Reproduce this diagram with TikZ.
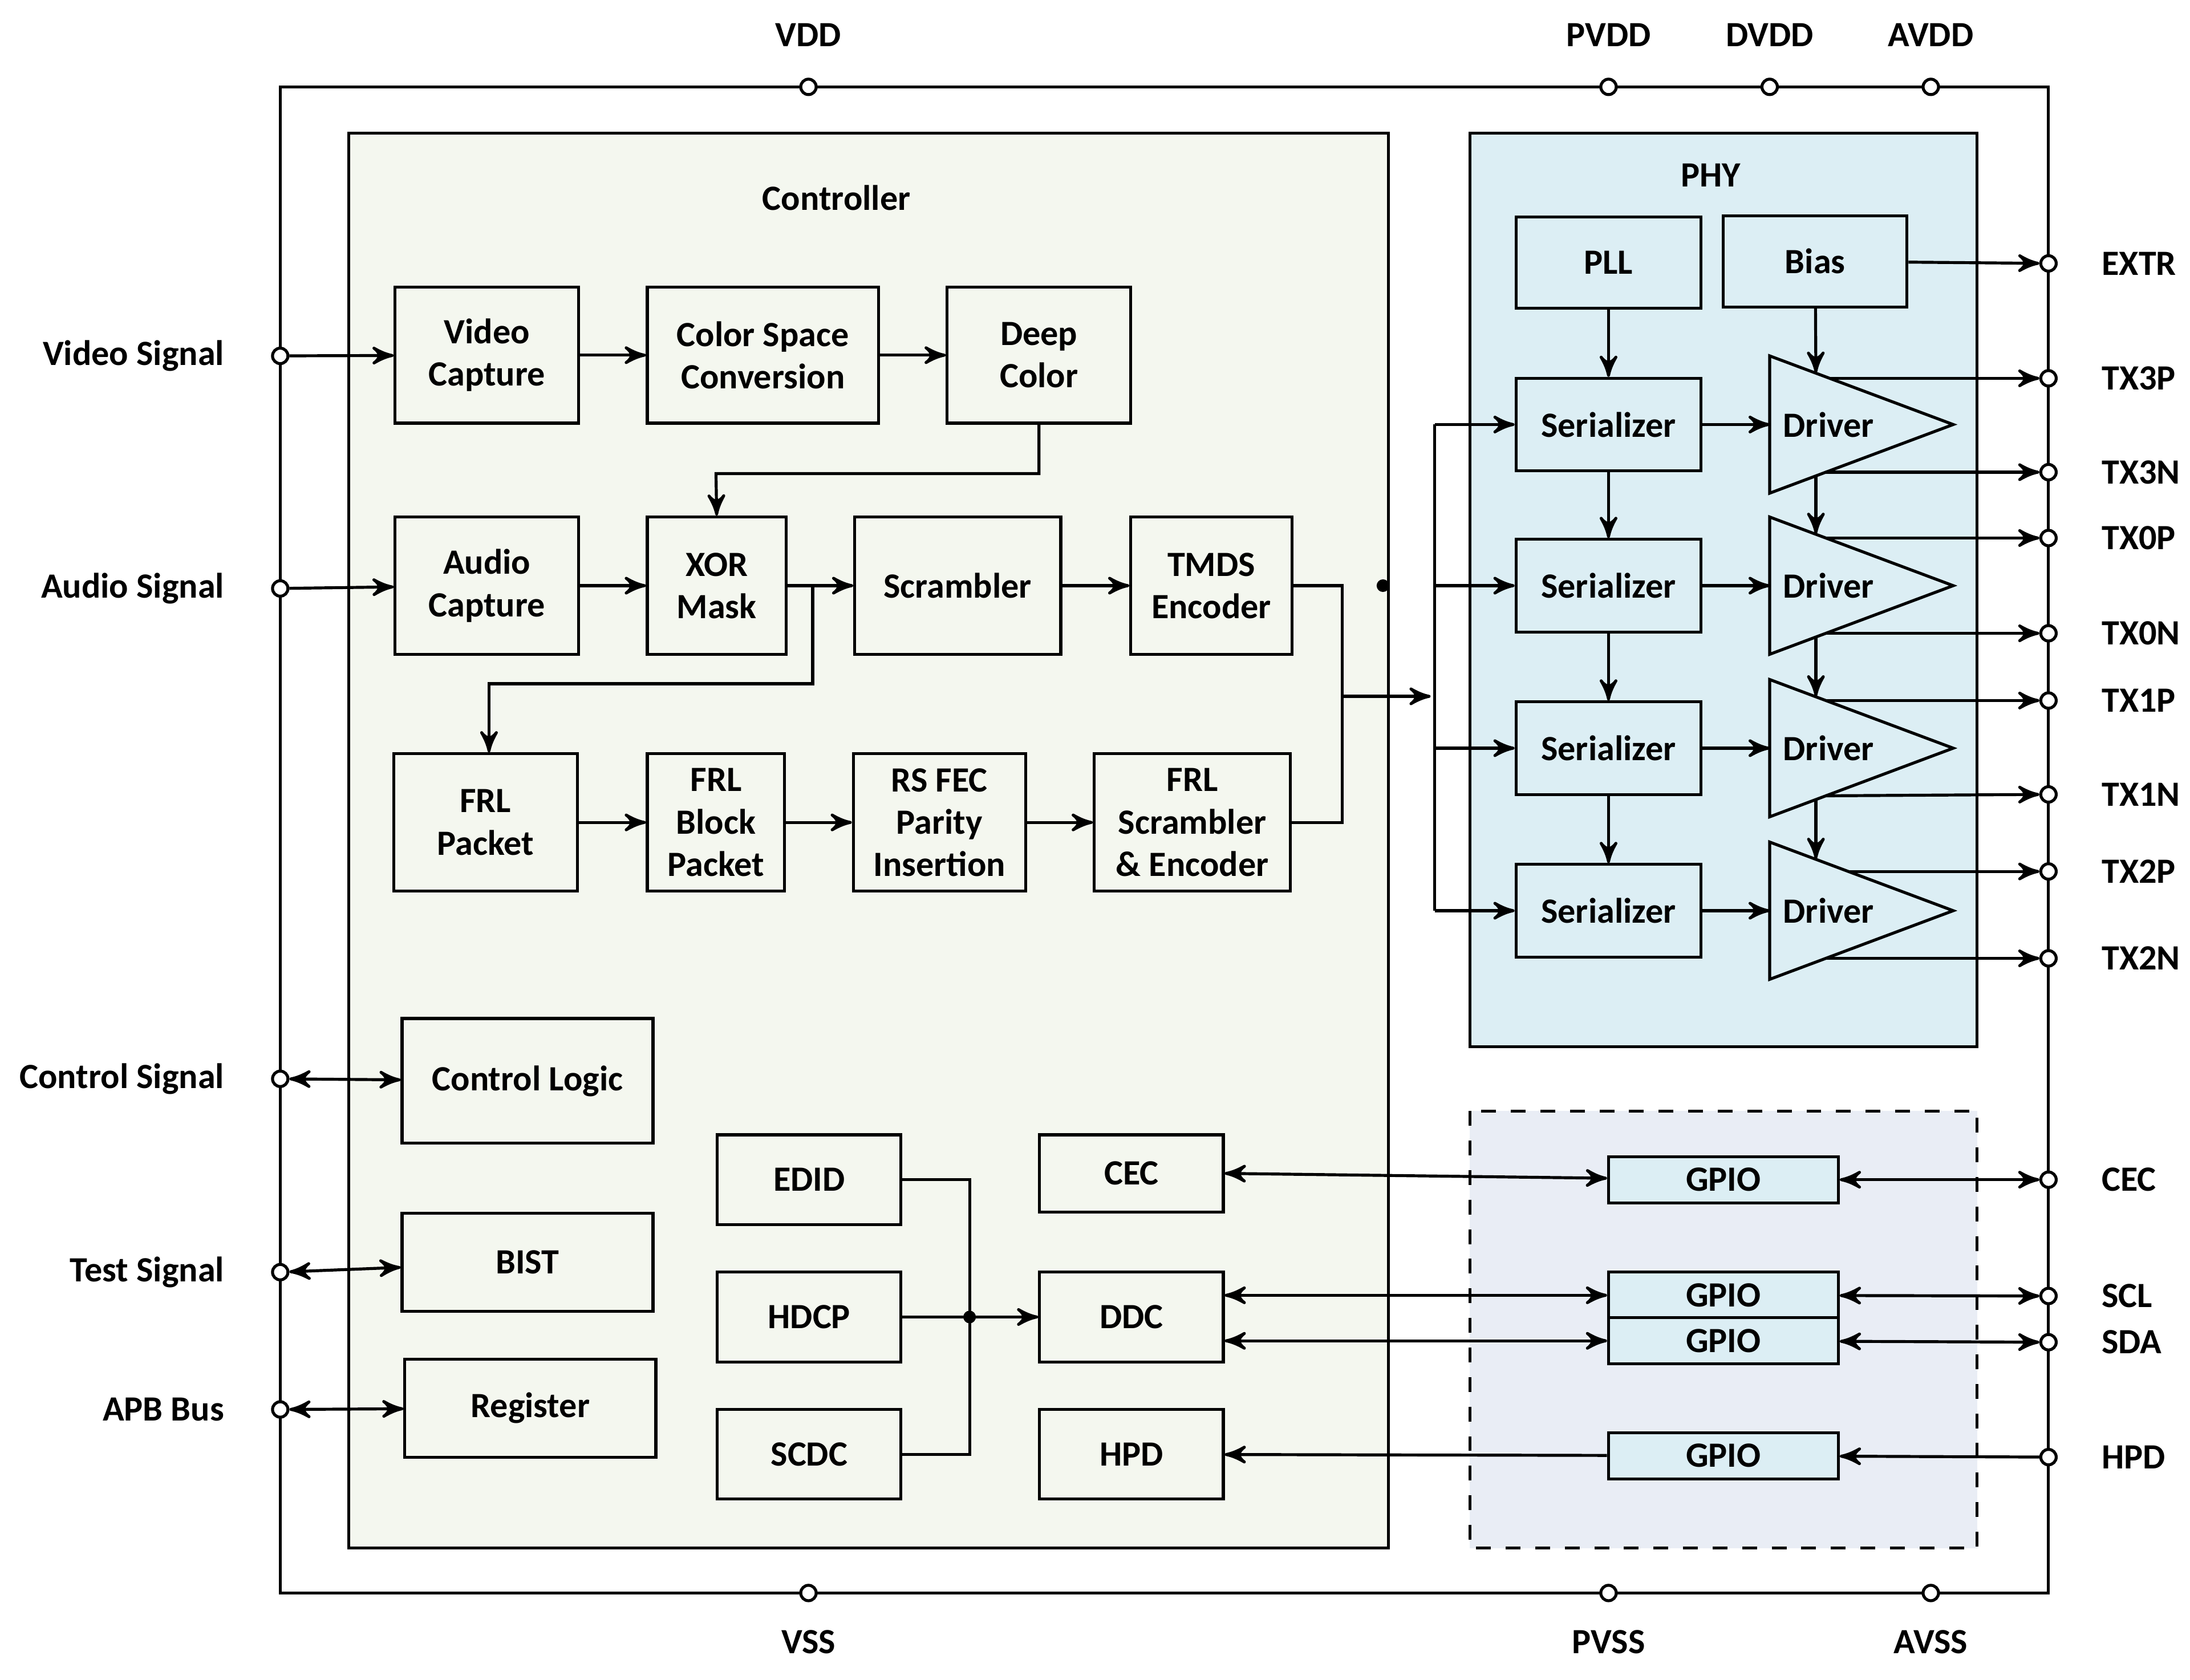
\documentclass[tikz,border=0pt]{standalone}
\usepackage{fontspec}
\setmainfont{Carlito}
\usetikzlibrary{arrows,positioning}
\definecolor{ctrlfill}{HTML}{F4F7EF}
\definecolor{phyfill}{HTML}{DCEEF4}
\definecolor{gpiofill}{HTML}{E9EDF5}
\begin{document}
\begin{tikzpicture}
[x=0.01cm, y=-0.01cm, line width=0.6pt, >=stealth',
 font=\fontsize{7.2}{8.6}\selectfont\bfseries,
 blk/.style={rectangle, draw, inner sep=1pt, align=center},
 gpio/.style={blk, fill=phyfill, minimum width=1.64cm, minimum height=0.33cm},
 ser/.style={blk, minimum width=1.32cm, minimum height=0.66cm},
 pin/.style={circle, draw, fill=white, inner sep=0pt, minimum size=0.11cm},
 lbl/.style={inner sep=0pt}]
\useasboundingbox (0,0) rectangle (1563,1199);

% frames
\draw (200,62) rectangle (1462,1137);
\draw[fill=ctrlfill] (249,95) rectangle (991,1105);
\draw[fill=phyfill] (1049,95) rectangle (1411,747);
\draw[fill=gpiofill, dashed] (1049,793) rectangle (1411,1105);
\node[lbl] (ctrltitle) at (597,141) {Controller};
\node[lbl] (phytitle) at (1221,125) {PHY};

% pins and their labels
\foreach \name/\x/\y/\lab/\ly in {VDD/577/62/VDD/25, PVDD/1148/62/PVDD/25, DVDD/1263/62/DVDD/25, AVDD/1378/62/AVDD/25,
  VSS/577/1137/VSS/1172, PVSS/1148/1137/PVSS/1172, AVSS/1378/1137/AVSS/1172}{
  \node[pin] (p\name) at (\x,\y) {};
  \node[lbl] (l\name) at (\x,\ly) {\lab};
}
\foreach \name/\y/\lab in {Video/254/Video Signal, Audio/420/Audio Signal, Ctrl/770/Control Signal,
  Test/908/Test Signal, APB/1006/APB Bus}{
  \node[pin] (p\name) at (200,\y) {};
  \node[lbl, anchor=east] (l\name) at (161,\y) {\lab};
}
\foreach \name/\y in {EXTR/188, TX3P/270, TX3N/337, TX0P/384, TX0N/452, TX1P/500, TX1N/567,
  TX2P/622, TX2N/684, CEC/842, SCL/925, SDA/958, HPD/1040}{
  \node[pin] (p\name) at (1462,\y) {};
  \node[lbl, anchor=west] (l\name) at (1499,\y) {\name};
}

% controller blocks
\node[blk, minimum width=1.31cm, minimum height=0.97cm] (vidcap) at (347.5,253.5) {Video\\Capture};
\node[blk, minimum width=1.65cm, minimum height=0.97cm] (csc) at (544.5,253.5) {Color Space\\Conversion};
\node[blk, minimum width=1.31cm, minimum height=0.97cm] (deep) at (741.5,253.5) {Deep\\Color};
\node[blk, minimum width=1.31cm, minimum height=0.98cm] (audcap) at (347.5,418) {Audio\\Capture};
\node[blk, minimum width=0.99cm, minimum height=0.98cm] (xor) at (511.5,418) {XOR\\Mask};
\node[blk, minimum width=1.47cm, minimum height=0.98cm] (scr) at (683.5,418) {Scrambler};
\node[blk, minimum width=1.15cm, minimum height=0.98cm] (tmds) at (864.5,418) {TMDS\\Encoder};
\node[blk, minimum width=1.31cm, minimum height=0.98cm] (frlp) at (346.5,587) {FRL\\Packet};
\node[blk, minimum width=0.98cm, minimum height=0.98cm] (frlb) at (511,587) {FRL\\Block\\Packet};
\node[blk, minimum width=1.23cm, minimum height=0.98cm] (rsfec) at (670.5,587) {RS FEC\\Parity\\Insertion};
\node[blk, minimum width=1.40cm, minimum height=0.98cm] (frls) at (851,587) {FRL\\Scrambler\\\& Encoder};
\node[blk, minimum width=1.79cm, minimum height=0.89cm] (ctrl) at (376.5,771.5) {Control Logic};
\node[blk, minimum width=1.79cm, minimum height=0.70cm] (bist) at (376.5,901) {BIST};
\node[blk, minimum width=1.79cm, minimum height=0.70cm] (reg) at (378.5,1005) {Register};
\node[blk, minimum width=1.31cm, minimum height=0.64cm] (edid) at (577.5,842) {EDID};
\node[blk, minimum width=1.31cm, minimum height=0.64cm] (hdcp) at (577.5,940) {HDCP};
\node[blk, minimum width=1.31cm, minimum height=0.64cm] (scdc) at (577.5,1038) {SCDC};
\node[blk, minimum width=1.31cm, minimum height=0.55cm] (cec) at (807.5,837.5) {CEC};
\node[blk, minimum width=1.31cm, minimum height=0.64cm] (ddc) at (807.5,940) {DDC};
\node[blk, minimum width=1.31cm, minimum height=0.64cm] (hpd) at (807.5,1038) {HPD};

% gpio blocks
\node[gpio] (gpio1) at (1230,842) {GPIO};
\node[gpio] (gpio2) at (1230,924.5) {GPIO};
\node[gpio] (gpio3) at (1230,957) {GPIO};
\node[gpio] (gpio4) at (1230,1039) {GPIO};

% phy blocks
\node[blk, minimum width=1.32cm, minimum height=0.65cm] (pll) at (1148,187.5) {PLL};
\node[blk, minimum width=1.31cm, minimum height=0.65cm] (bias) at (1295.5,186.5) {Bias};
\foreach \i/\c/\pp/\pn/\dp in {1/303/TX3P/TX3N/33, 2/418/TX0P/TX0N/34, 3/534/TX1P/TX1N/34, 4/650/TX2P/TX2N/28}{
  \node[ser] (ser\i) at (1148,\c) {Serializer};
  \draw (1263,\c-49) -- (1394,\c) -- (1263,\c+49) -- cycle;
  \node[lbl] (drv\i) at (1305,\c) {Driver};
  \coordinate (drvin\i) at (1263,\c);
  \coordinate (drvtop\i) at (1296,\c-37);
  \coordinate (drvbot\i) at (1296,\c+37);
  \coordinate (drvp\i) at ({1263+131*(1-\dp/49)},\c-\dp);
  \coordinate (drvn\i) at (1303,\c+34);
  \draw[->] (ser\i) -- (drvin\i);
  \draw[->] (drvp\i) -- (p\pp);
  \draw[->] (drvn\i) -- (p\pn);
}

% controller connections
\draw[->] (pVideo) -- (vidcap);
\draw[->] (vidcap) -- (csc);
\draw[->] (csc) -- (deep);
\draw[->] (deep.south) |- (511,338) -- (xor.north);
\draw[->] (pAudio) -- (audcap);
\draw[->] (audcap) -- (xor);
\draw[->] (xor) -- (scr);
\coordinate (xorsplit) at (580,418);
\draw[->] (xorsplit) |- (349,488) -- (frlp.north -| 349,0);
\draw[->] (scr) -- (tmds);
\draw[->] (frlp) -- (frlb);
\draw[->] (frlb) -- (rsfec);
\draw[->] (rsfec) -- (frls);
\coordinate (merge) at (958,497);
\coordinate (busin) at (1021,497);
\draw (tmds.east) -| (merge) |- (frls.east);
\draw[->] (merge) -- (busin);
\fill (987,418) circle (0.045cm);
\draw (1024,303) -- (1024,650);
\foreach \i/\c in {1/303, 2/418, 3/534, 4/650}
  \draw[->] (1024,\c) -- (ser\i);
\draw[<->] (pCtrl) -- (ctrl);
\draw[<->] (pTest) -- (bist);
\draw[<->] (pAPB) -- (reg);
\draw (edid.east) -| (692,1038) -- (scdc.east);
\draw[->] (hdcp) -- (ddc);
\fill (692,940) circle (0.045cm);

% phy connections
\draw[->] (pll) -- (ser1);
\draw[->] (bias) -- (drvtop1);
\draw[->] (bias) -- (pEXTR);
\draw[->] (ser1) -- (ser2);
\draw[->] (ser2) -- (ser3);
\draw[->] (ser3) -- (ser4);
\draw[->] (drvbot1) -- (drvtop2);
\draw[->] (drvbot2) -- (drvtop3);
\draw[->] (drvbot3) -- (drvtop4);

% gpio connections
\draw[<->] (cec.east) -- (gpio1);
\draw[<->] (gpio1) -- (pCEC);
\draw[<->] (ddc.east |- gpio2) -- (gpio2);
\draw[<->] (gpio2) -- (pSCL);
\draw[<->] (ddc.east |- gpio3) -- (gpio3);
\draw[<->] (gpio3) -- (pSDA);
\draw[->] (pHPD) -- (gpio4);
\draw[->] (gpio4) -- (hpd);
\end{tikzpicture}
\end{document}
